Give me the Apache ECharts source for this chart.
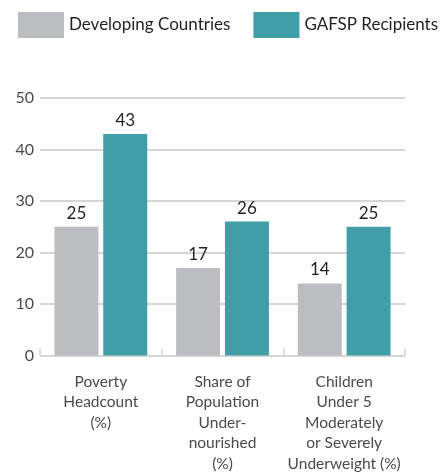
<!DOCTYPE html>
<html>
<head>
<meta charset="utf-8">
<script src="https://cdn.jsdelivr.net/npm/echarts@6/dist/echarts.min.js"></script>
<style>
  html, body { margin: 0; padding: 0; background: #fff; }
  #chart { width: 443px; height: 474px; }
</style>
</head>
<body>
<div id="chart"></div>
<script>
// Indicator categories (multi-line axis labels)
const categories = [
  'Poverty\nHeadcount\n(%)',
  'Share of\nPopulation\nUnder-\nnourished\n(%)',
  'Children\nUnder 5\nModerately\nor Severely\nUnderweight (%)'
];
const seriesNames = ['Developing Countries', 'GAFSP Recipients'];
const developingValues = [25, 17, 14];
const gafspValues = [43, 26, 25];
const yTicks = { min: 0, max: 50, interval: 10 };

const FONT = 'Lato, "Open Sans", sans-serif';
const GREY = '#bcbdc1';
const TEAL = '#429ea6';

const chart = echarts.init(document.getElementById('chart'), null, { renderer: 'canvas' });

const valueLabel = {
  show: true,
  position: 'top',
  distance: 5,
  fontFamily: FONT,
  fontSize: 17,
  color: '#231f20'
};

chart.setOption({
  animation: false,
  textStyle: { fontFamily: FONT },
  legend: {
    left: 18,
    top: 12,
    width: 425,
    padding: 0,
    itemWidth: 46,
    itemHeight: 26,
    itemGap: 23,
    icon: 'rect',
    textStyle: { fontFamily: FONT, fontSize: 17, color: '#231f20' },
    data: seriesNames
  },
  grid: { left: 40, right: 38, top: 98, bottom: 118.5, containLabel: false },
  xAxis: {
    type: 'category',
    data: categories,
    axisLine: { show: false },
    axisTick: {
      show: true,
      inside: true,
      length: 7,
      lineStyle: { color: '#d0d0d0', width: 1.5 }
    },
    axisLabel: {
      interval: 0,
      margin: 16,
      fontFamily: FONT,
      fontSize: 15.5,
      lineHeight: 20.5,
      color: '#4a4a4a',
      align: 'center'
    }
  },
  yAxis: {
    type: 'value',
    min: yTicks.min,
    max: yTicks.max,
    interval: yTicks.interval,
    axisLine: { show: false },
    axisTick: { show: false },
    axisLabel: { margin: 6, fontFamily: FONT, fontSize: 16, color: '#4a4a4a' },
    splitLine: { lineStyle: { color: '#c9c9cb', width: 1.5 } }
  },
  series: [
    {
      name: seriesNames[0],
      type: 'bar',
      data: developingValues,
      itemStyle: { color: GREY },
      barWidth: 44,
      barGap: '11%',
      label: valueLabel
    },
    {
      name: seriesNames[1],
      type: 'bar',
      data: gafspValues,
      itemStyle: { color: TEAL },
      barWidth: 44,
      barGap: '11%',
      label: valueLabel
    }
  ]
});
</script>
</body>
</html>
